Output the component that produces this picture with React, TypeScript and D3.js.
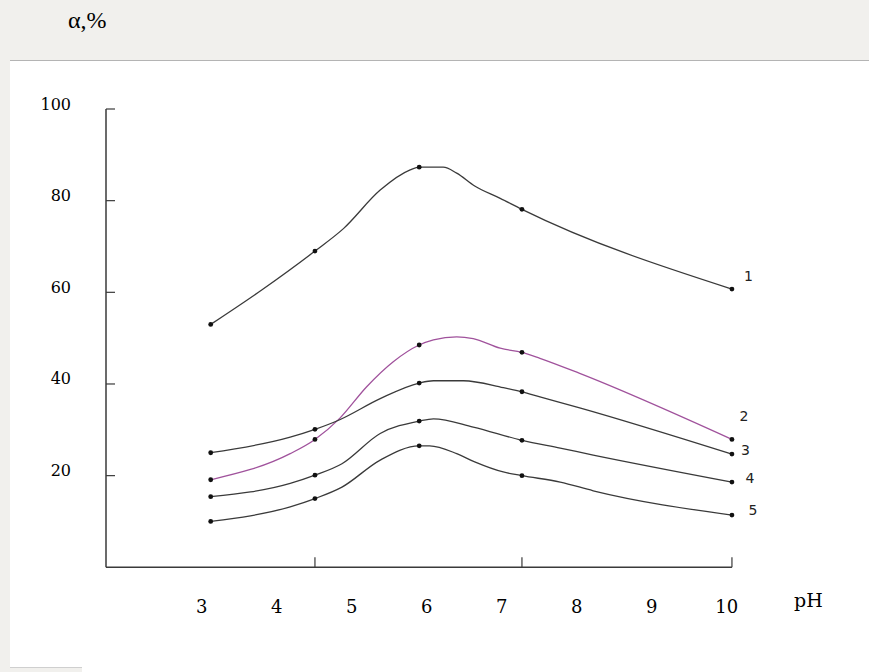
import { useRef, useEffect } from 'react';
import * as d3 from 'd3';

// x tick labels (pH) and y tick values (alpha, %)
const phLabels = [3, 4, 5, 6, 7, 8, 9, 10];
const alphaTicks = [20, 40, 60, 80, 100];

// pH where the measured points sit (dots), and where the bottom axis has ticks
const markerPh = [3.12, 4.51, 5.9, 7.27, 10.07];
const axisTickPh = [4.51, 7.27, 10.07];

// curves: [pH, alpha %]
const curve1 = [
  [3.12, 53.0], [3.8, 60.5], [4.51, 69.0], [4.89, 73.9], [5.38, 82.3], [5.78, 86.7],
  [5.9, 87.3], [6.22, 87.3], [6.4, 86.0], [6.64, 83.2], [6.98, 80.5], [7.27, 78.1],
  [10.07, 60.7],
];
const curve2 = [
  [3.12, 19.1], [4.18, 24.8], [4.51, 27.9], [4.84, 32.5], [5.2, 39.4], [5.55, 44.8],
  [5.9, 48.5], [6.09, 49.6], [6.4, 50.3], [6.62, 49.9], [6.98, 47.8], [7.27, 46.9],
  [7.51, 45.6], [8.04, 42.3], [10.07, 27.9],
];
const curve3 = [
  [3.12, 25.0], [4.18, 28.4], [4.51, 30.1], [4.84, 32.2], [5.38, 36.8], [5.9, 40.2],
  [6.09, 40.7], [6.49, 40.7], [7.02, 39.2], [7.27, 38.3], [7.51, 37.2], [8.04, 34.8],
  [10.07, 24.7],
];
const curve4 = [
  [3.12, 15.4], [4.18, 18.3], [4.51, 20.1], [4.87, 22.6], [5.38, 29.2], [5.9, 31.9],
  [6.09, 32.4], [6.62, 30.6], [7.27, 27.7], [7.78, 26.0], [8.22, 24.5], [10.07, 18.6],
];
const curve5 = [
  [3.12, 10.0], [4.18, 13.2], [4.51, 15.0], [4.87, 17.5], [5.38, 23.4], [5.9, 26.5],
  [6.04, 26.5], [6.4, 24.8], [6.64, 23.0], [7.02, 20.8], [7.27, 20.0], [7.78, 18.6],
  [8.22, 16.7], [10.07, 11.4],
];

const curveNames = ['1', '2', '3', '4', '5'];
const curveColors = ['#3a3a3a', '#a0529c', '#3a3a3a', '#3a3a3a', '#3a3a3a'];
// where each curve number is written: [pH, alpha]
const curveLabelAt = [[10.29, 63.5], [10.23, 33.1], [10.25, 25.7], [10.31, 19.5], [10.35, 12.5]];

export default function App() {
  const svgRef = useRef(null);

  useEffect(() => {
    const svg = d3.select(svgRef.current);
    svg.selectAll('*').remove();

    const width = 869;
    const height = 672;

    // page + white sheet
    svg.append('rect').attr('width', width).attr('height', height).attr('fill', '#f1f0ed');
    svg.append('rect').attr('x', 10).attr('y', 60).attr('width', width - 10).attr('height', height - 60).attr('fill', '#ffffff');
    svg.append('line').attr('x1', 10).attr('x2', width).attr('y1', 60.5).attr('y2', 60.5)
      .attr('stroke', '#b4b4b4').attr('stroke-width', 1);
    svg.append('rect').attr('x', 10).attr('y', 667).attr('width', 72).attr('height', 5).attr('fill', '#f1f0ed');
    svg.append('line').attr('x1', 10).attr('x2', 82).attr('y1', 667.5).attr('y2', 667.5)
      .attr('stroke', '#cfcfcf');

    const x = d3.scaleLinear().domain([3, 10]).range([201.7, 726.7]);
    const y = d3.scaleLinear().domain([0, 100]).range([567.3, 109]);
    const x0 = 106;

    const axisColor = '#3a3a3a';

    // y axis line + inward ticks
    svg.append('line').attr('x1', x0).attr('x2', x0).attr('y1', y(100)).attr('y2', y(0))
      .attr('stroke', axisColor).attr('stroke-width', 1.5);
    svg.selectAll('.ytick').data(alphaTicks).enter().append('line')
      .attr('x1', x0).attr('x2', x0 + 9)
      .attr('y1', d => y(d)).attr('y2', d => y(d))
      .attr('stroke', axisColor).attr('stroke-width', 1.2);
    svg.selectAll('.ylab').data(alphaTicks).enter().append('text')
      .attr('x', 71).attr('y', d => y(d) - 5)
      .attr('text-anchor', 'end').attr('dominant-baseline', 'central')
      .attr('font-family', 'DejaVu Serif').attr('font-size', 16)
      .attr('fill', '#000')
      .text(d => d);

    // x axis line + upward ticks
    svg.append('line').attr('x1', x0).attr('x2', x(axisTickPh[axisTickPh.length - 1])).attr('y1', y(0)).attr('y2', y(0))
      .attr('stroke', axisColor).attr('stroke-width', 1.5);
    svg.selectAll('.xtick').data(axisTickPh).enter().append('line')
      .attr('x1', d => x(d)).attr('x2', d => x(d))
      .attr('y1', y(0)).attr('y2', y(0) - 10)
      .attr('stroke', axisColor).attr('stroke-width', 1.2);
    svg.selectAll('.xlab').data(phLabels).enter().append('text')
      .attr('x', d => x(d)).attr('y', 613)
      .attr('text-anchor', 'middle')
      .attr('font-family', 'DejaVu Serif').attr('font-size', 18)
      .attr('fill', '#000')
      .text(d => d);

    svg.append('text').attr('x', 794).attr('y', 606.5)
      .attr('font-family', 'DejaVu Serif').attr('font-size', 19).attr('fill', '#000')
      .text('pH');
    svg.append('text').attr('x', 68).attr('y', 28)
      .attr('font-family', 'Liberation Serif').attr('font-size', 24).attr('fill', '#000')
      .text('α,%');

    // curves
    const curves = [curve1, curve2, curve3, curve4, curve5];
    const line = d3.line()
      .x(d => x(d[0]))
      .y(d => y(d[1]))
      .curve(d3.curveMonotoneX);

    curves.forEach((c, i) => {
      svg.append('path').attr('d', line(c))
        .attr('fill', 'none').attr('stroke', curveColors[i]).attr('stroke-width', 1.3);
    });
    curves.forEach(c => {
      svg.selectAll(null).data(c.filter(d => markerPh.includes(d[0]))).enter().append('circle')
        .attr('cx', d => x(d[0])).attr('cy', d => y(d[1])).attr('r', 2.4)
        .attr('fill', '#111');
    });

    svg.selectAll('.clab').data(curveLabelAt).enter().append('text')
      .attr('x', d => x(d[0])).attr('y', d => y(d[1]))
      .attr('text-anchor', 'middle').attr('dominant-baseline', 'central')
      .attr('font-family', 'DejaVu Sans').attr('font-size', 14).attr('fill', '#222')
      .text((d, i) => curveNames[i]);
  }, []);

  return (
    <svg ref={svgRef} width={869} height={672} style={{ position: 'fixed', left: 0, top: 0 }} />
  );
}
